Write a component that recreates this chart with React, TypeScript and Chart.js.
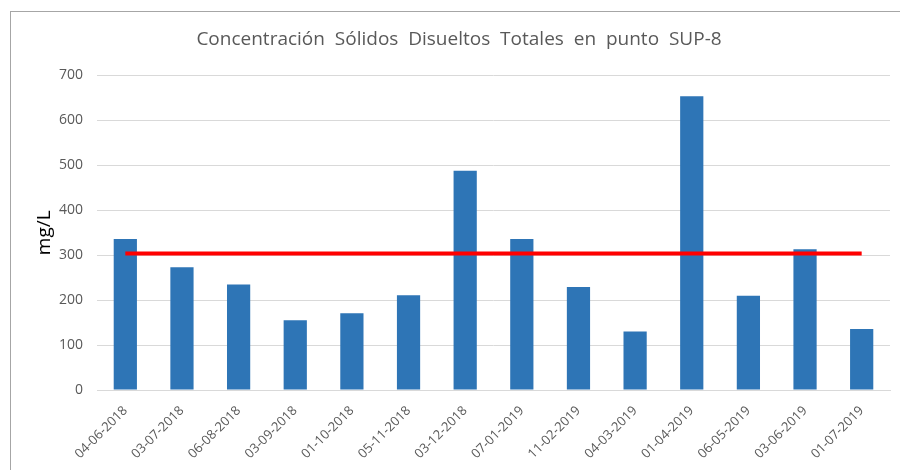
import React, { useEffect, useRef } from "react";
import { Chart, registerables } from "chart.js";

Chart.register(...registerables);

const categories: string[] = [
  "04-06-2018", "03-07-2018", "06-08-2018", "03-09-2018", "01-10-2018",
  "05-11-2018", "03-12-2018", "07-01-2019", "11-02-2019", "04-03-2019",
  "01-04-2019", "06-05-2019", "03-06-2019", "01-07-2019",
];
const tdsValues: number[] = [336, 273, 235, 155, 171, 211, 488, 336, 229, 130, 654, 210, 313, 136];
const limitValues: number[] = [304, 304, 304, 304, 304, 304, 304, 304, 304, 304, 304, 304, 304, 304];
const titleText = "Concentración  Sólidos  Disueltos  Totales  en  punto  SUP-8";
const yAxisTitle = "mg/L";
const yMin = 0;
const yMax = 700;
const yStep = 100;

const FONT = "'Open Sans', 'DejaVu Sans', sans-serif";
const GRAY = "#595959";

export default function App() {
  const canvasRef = useRef<HTMLCanvasElement | null>(null);

  useEffect(() => {
    if (!canvasRef.current) return;
    const chart = new Chart(canvasRef.current, {
      type: "bar",
      data: {
        labels: categories,
        datasets: [
          {
            type: "line",
            label: "Límite",
            data: limitValues,
            borderColor: "#ff0000",
            borderWidth: 4,
            pointRadius: 0,
            fill: false,
            order: 0,
          } as any,
          {
            type: "bar",
            label: "SDT",
            data: tdsValues,
            backgroundColor: "#2e75b6",
            borderWidth: 0,
            barPercentage: 0.41,
            categoryPercentage: 1,
            order: 1,
          },
        ],
      },
      options: {
        responsive: false,
        animation: false,
        devicePixelRatio: 1,
        layout: { padding: { left: 28, right: 10, top: 0, bottom: 0 } },
        plugins: {
          legend: { display: false },
          tooltip: { enabled: false },
          title: {
            display: true,
            text: titleText,
            color: GRAY,
            font: { family: FONT, size: 19, weight: "normal" },
            padding: { top: 28.6, bottom: 24.1 },
          },
        },
        scales: {
          x: {
            grid: { display: false, drawTicks: false },
            border: { display: true, color: "#d9d9d9", width: 1 },
            ticks: {
              color: GRAY,
              font: { family: FONT, size: 13 },
              minRotation: 45,
              maxRotation: 45,
              padding: 13,
              autoSkip: false,
            },
            afterFit: (scale: any) => {
              scale.height = 80;
            },
          },
          y: {
            min: yMin,
            max: yMax,
            grid: { color: "#d9d9d9", lineWidth: 1, drawTicks: false },
            border: { display: false },
            ticks: {
              stepSize: yStep,
              color: GRAY,
              font: { family: FONT, size: 14 },
              padding: 14,
            },
            title: {
              display: true,
              text: yAxisTitle,
              color: "#000000",
              font: { family: FONT, size: 19, weight: "normal" },
              padding: { top: 5, bottom: 0 },
            },
            afterFit: (scale: any) => {
              scale.width = 69;
            },
          },
        },
      },
    });
    return () => chart.destroy();
  }, []);

  return (
    <div
      style={{
        position: "fixed",
        left: 0,
        top: 0,
        width: 900,
        height: 470,
        background: "#ffffff",
        overflow: "hidden",
      }}
    >
      <div
        style={{
          position: "absolute",
          left: 10,
          top: 11,
          right: 0,
          bottom: 0,
          borderTop: "1px solid #a6a6a6",
          borderLeft: "1px solid #a6a6a6",
        }}
      />
      <canvas
        ref={canvasRef}
        width={900}
        height={470}
        style={{ position: "absolute", left: 0, top: 0, width: 900, height: 470 }}
      />
    </div>
  );
}
